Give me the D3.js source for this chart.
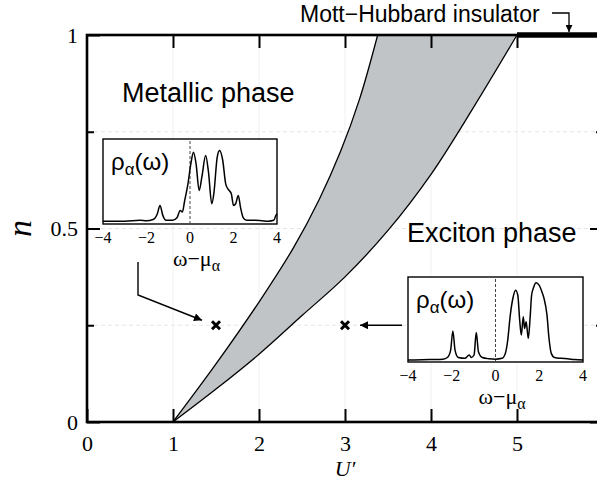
<!DOCTYPE html>
<html lang="en">
<head>
<meta charset="UTF-8">
<title>Phase diagram</title>
<script src="https://cdn.jsdelivr.net/npm/d3@7"></script>
<style>
    body { margin: 0; background: #fff; }
    svg { display: block; }
    .serif { font-family: "Liberation Serif", "Times New Roman", serif; }
    .sans { font-family: "Liberation Sans", Arial, sans-serif; }
</style>
</head>
<body>
<div id="chart"></div>
<script>
    // main axes
    const uTicks = [0, 1, 2, 3, 4, 5]
    const nTicks = [0, 0.5, 1]
    const nMinorTicks = [0.25, 0.75]

    // phase boundaries (U', n)
    const metalBoundary = [[1, 0], [1.5, 0.15], [2, 0.31], [2.4, 0.45], [2.7, 0.575], [2.95, 0.7], [3.17, 0.835], [3.38, 1]]
    const excitonBoundary = [[1, 0], [1.5, 0.085], [2, 0.175], [2.5, 0.275], [3, 0.375], [3.5, 0.495], [4, 0.64], [4.5, 0.815], [5, 1]]
    const mottRange = [5, 6]
    const samplePoints = [[1.5, 0.25], [3, 0.25]]

    // insets: density of states vs omega - mu
    const omegaTicks = [-4, -2, 0, 2, 4]
    const dosMetal = [[-4, 0.01], [-3, 0.01], [-2.3, 0.02], [-2, 0.015], [-1.7, 0.03], [-1.5, 0.1], [-1.38, 0.2], [-1.25, 0.08],
        [-1.1, 0.02], [-0.8, 0.02], [-0.6, 0.05], [-0.45, 0.14], [-0.35, 0.12], [-0.25, 0.25], [-0.1, 0.45], [0.05, 0.72],
        [0.16, 0.84], [0.28, 0.7], [0.42, 0.38], [0.55, 0.55], [0.72, 0.8], [0.85, 0.6], [1, 0.22], [1.1, 0.35], [1.25, 0.78],
        [1.36, 0.86], [1.5, 0.75], [1.65, 0.45], [1.8, 0.38], [1.9, 0.34], [2, 0.2], [2.1, 0.22], [2.22, 0.32], [2.32, 0.18],
        [2.45, 0.05], [2.6, 0.02], [3, 0.02], [3.3, 0.015], [3.6, 0.01], [3.85, 0.02], [3.95, 0.08], [4, 0.1]]
    const dosExciton = [[-4, 0], [-3, 0.005], [-2.4, 0.01], [-2.2, 0.03], [-2.05, 0.12], [-1.95, 0.35], [-1.85, 0.12], [-1.7, 0.03],
        [-1.4, 0.02], [-1.2, 0.06], [-1.1, 0.03], [-0.98, 0.06], [-0.88, 0.33], [-0.78, 0.1], [-0.6, 0.03], [-0.3, 0.015],
        [0, 0.01], [0.3, 0.02], [0.45, 0.08], [0.55, 0.22], [0.68, 0.55], [0.8, 0.75], [0.92, 0.84], [1.02, 0.78], [1.1, 0.5],
        [1.18, 0.3], [1.27, 0.52], [1.33, 0.38], [1.4, 0.46], [1.5, 0.26], [1.58, 0.5], [1.65, 0.78], [1.75, 0.88], [1.85, 0.93],
        [2, 0.9], [2.15, 0.8], [2.22, 0.74], [2.35, 0.55], [2.45, 0.25], [2.55, 0.08], [2.7, 0.03], [3, 0.02], [3.3, 0.015],
        [3.6, 0.005], [4, 0]]

    const width = 597
    const height = 490

    const x = d3.scaleLinear().domain([0, 6]).range([87, 603])
    const y = d3.scaleLinear().domain([0, 1]).range([422, 35])

    const svg = d3.select("#chart").append("svg")
        .attr("width", width)
        .attr("height", height)

    const defs = svg.append("defs")
    defs.append("marker")
        .attr("id", "arrow")
        .attr("viewBox", "0 0 10 10")
        .attr("refX", 10)
        .attr("refY", 5)
        .attr("markerWidth", 11)
        .attr("markerHeight", 8)
        .attr("markerUnits", "userSpaceOnUse")
        .attr("orient", "auto")
        .append("path")
        .attr("d", "M0,0 L10,5 L0,10 Z")
        .attr("fill", "#000")
    defs.append("marker")
        .attr("id", "arrow-small")
        .attr("viewBox", "0 0 10 10")
        .attr("refX", 10)
        .attr("refY", 5)
        .attr("markerWidth", 8)
        .attr("markerHeight", 7)
        .attr("markerUnits", "userSpaceOnUse")
        .attr("orient", "auto")
        .append("path")
        .attr("d", "M0,0 L10,5 L0,10 Z")
        .attr("fill", "#000")

    // faint grid
    svg.append("g").selectAll("line")
        .data([1, 2, 3, 4, 5])
        .enter().append("line")
        .attr("x1", (d) => x(d)).attr("x2", (d) => x(d))
        .attr("y1", y(1)).attr("y2", y(0))
        .attr("stroke", "#f1f1f1")
        .attr("stroke-width", 1)
    svg.append("g").selectAll("line")
        .data([0.25, 0.5, 0.75])
        .enter().append("line")
        .attr("x1", x(0)).attr("x2", x(6))
        .attr("y1", (d) => y(d)).attr("y2", (d) => y(d))
        .attr("stroke", "#e6e6e6")
        .attr("stroke-dasharray", "4,3")
        .attr("stroke-width", 1)

    // coexistence region
    const boundaryLine = d3.line()
        .x((d) => x(d[0]))
        .y((d) => y(d[1]))
        .curve(d3.curveCatmullRom.alpha(0.5))

    const leftPath = boundaryLine(metalBoundary)
    const rightPath = boundaryLine(excitonBoundary.slice().reverse())

    svg.append("path")
        .attr("d", leftPath + rightPath.replace(/^M/, "L") + "Z")
        .attr("fill", "#c0c4c7")
        .attr("stroke", "none")

    svg.selectAll(".boundary")
        .data([metalBoundary, excitonBoundary])
        .enter().append("path")
        .attr("class", "boundary")
        .attr("d", (d) => boundaryLine(d))
        .attr("fill", "none")
        .attr("stroke", "#000")
        .attr("stroke-width", 1.3)

    // axes (ticks point inward)
    const bottomAxis = svg.append("g")
        .attr("transform", `translate(0, ${y(0)})`)
        .call(d3.axisBottom(x).tickValues(uTicks).tickSize(-13).tickPadding(13).tickFormat(d3.format("d")))
    const topAxis = svg.append("g")
        .attr("transform", `translate(0, ${y(1)})`)
        .call(d3.axisTop(x).tickValues(uTicks.slice(1)).tickSize(-13).tickFormat(""))
    const leftAxis = svg.append("g")
        .attr("transform", `translate(${x(0)}, 0)`)
        .call(d3.axisLeft(y).tickValues(nTicks).tickSize(-13).tickPadding(9).tickFormat((d) => d))
    const leftMinor = svg.append("g")
        .attr("transform", `translate(${x(0)}, 0)`)
        .call(d3.axisLeft(y).tickValues(nMinorTicks).tickSize(-7).tickFormat(""))
    const rightAxis = svg.append("g")
        .attr("transform", `translate(${x(6)}, 0)`)
        .call(d3.axisRight(y).tickValues(nTicks).tickSize(-13).tickFormat(""))
    const rightMinor = svg.append("g")
        .attr("transform", `translate(${x(6)}, 0)`)
        .call(d3.axisRight(y).tickValues(nMinorTicks).tickSize(-7).tickFormat(""))

    const axes = [bottomAxis, topAxis, leftAxis, leftMinor, rightAxis, rightMinor]
    axes.forEach((g) => {
        g.select(".domain").remove()
        g.selectAll(".tick line").attr("stroke", "#000").attr("stroke-width", 2)
        g.selectAll(".tick text")
            .attr("class", "serif")
            .style("font-size", "22px")
            .attr("fill", "#000")
    })
    leftAxis.selectAll(".tick text").attr("dy", "0.34em")

    // frame
    svg.append("rect")
        .attr("x", x(0))
        .attr("y", y(1))
        .attr("width", x(6) - x(0))
        .attr("height", y(0) - y(1))
        .attr("fill", "none")
        .attr("stroke", "#000")
        .attr("stroke-width", 2.6)

    // Mott-Hubbard insulator line
    svg.append("line")
        .attr("x1", x(mottRange[0])).attr("x2", x(mottRange[1]))
        .attr("y1", y(1)).attr("y2", y(1))
        .attr("stroke", "#000")
        .attr("stroke-width", 5.5)

    svg.append("text")
        .attr("class", "sans")
        .attr("x", 300)
        .attr("y", 22)
        .style("font-size", "23px")
        .text("Mott\u2212Hubbard insulator")
    svg.append("path")
        .attr("d", "M552,13 L569,13 L569,32")
        .attr("fill", "none")
        .attr("stroke", "#000")
        .attr("stroke-width", 1.3)
        .attr("marker-end", "url(#arrow-small)")

    // axis titles
    svg.append("text")
        .attr("class", "serif")
        .attr("transform", `translate(31, ${y(0.5)}) rotate(-90)`)
        .attr("text-anchor", "middle")
        .style("font-size", "34px")
        .style("font-style", "italic")
        .text("n")
    svg.append("text")
        .attr("class", "serif")
        .attr("x", x(3))
        .attr("y", 476)
        .attr("text-anchor", "middle")
        .style("font-size", "22px")
        .style("font-style", "italic")
        .text("U\u2032")

    // phase labels
    svg.append("text")
        .attr("class", "sans")
        .attr("x", 122)
        .attr("y", 102)
        .style("font-size", "27px")
        .text("Metallic phase")
    svg.append("text")
        .attr("class", "sans")
        .attr("x", 407)
        .attr("y", 242)
        .style("font-size", "27px")
        .text("Exciton phase")

    // sample points
    svg.selectAll(".sample")
        .data(samplePoints)
        .enter().append("path")
        .attr("class", "sample")
        .attr("transform", (d) => `translate(${x(d[0])}, ${y(d[1])})`)
        .attr("d", "M-4,-4 L4,4 M-4,4 L4,-4")
        .attr("stroke", "#000")
        .attr("stroke-width", 3)

    // insets
    function drawInset(box, data, labelDy) {
        const g = svg.append("g")
        const ix = d3.scaleLinear().domain([-4, 4]).range([box.x, box.x + box.w])
        const iy = d3.scaleLinear().domain([0, 1]).range([box.y + box.h - 2, box.y])

        g.append("rect")
            .attr("x", box.x).attr("y", box.y)
            .attr("width", box.w).attr("height", box.h)
            .attr("fill", "#fff")
            .attr("stroke", "#000")
            .attr("stroke-width", 1.4)

        g.append("line")
            .attr("x1", ix(0)).attr("x2", ix(0))
            .attr("y1", box.y + 2).attr("y2", box.y + box.h)
            .attr("stroke", "#444")
            .attr("stroke-width", 1)
            .attr("stroke-dasharray", "3,2")

        g.append("path")
            .datum(data)
            .attr("d", d3.line().x((d) => ix(d[0])).y((d) => iy(d[1])).curve(d3.curveMonotoneX))
            .attr("fill", "none")
            .attr("stroke", "#000")
            .attr("stroke-width", 1.5)

        g.selectAll(".otick")
            .data(omegaTicks)
            .enter().append("text")
            .attr("class", "serif")
            .attr("x", (d) => ix(d))
            .attr("y", box.y + box.h + 19)
            .attr("text-anchor", "middle")
            .style("font-size", "16px")
            .text((d) => d < 0 ? "\u2212" + Math.abs(d) : d)

        const rho = g.append("text")
            .attr("class", "sans")
            .attr("x", box.x + 8)
            .attr("y", box.y + 31)
            .style("font-size", "24px")
        rho.append("tspan").text("\u03c1")
        rho.append("tspan").attr("dy", 5).style("font-size", "17px").text("\u03b1")
        rho.append("tspan").attr("dy", -5).text("(\u03c9)")

        const om = g.append("text")
            .attr("class", "serif")
            .attr("x", ix(0.3))
            .attr("y", box.y + box.h + labelDy)
            .attr("text-anchor", "middle")
            .style("font-size", "22px")
        om.append("tspan").text("\u03c9\u2212\u03bc")
        om.append("tspan").attr("dy", 5).style("font-size", "16px").text("\u03b1")
    }

    drawInset({x: 103, y: 139, w: 174, h: 85}, dosMetal, 42)
    drawInset({x: 408, y: 277, w: 175, h: 85}, dosExciton, 42)

    // arrows from insets to sample points
    svg.append("path")
        .attr("d", `M138,262 L138,295 L${x(1.5) - 14},${y(0.25) - 5}`)
        .attr("fill", "none")
        .attr("stroke", "#000")
        .attr("stroke-width", 1.4)
        .attr("marker-end", "url(#arrow)")
    svg.append("path")
        .attr("d", `M402,${y(0.25)} L${x(3) + 15},${y(0.25)}`)
        .attr("fill", "none")
        .attr("stroke", "#000")
        .attr("stroke-width", 1.4)
        .attr("marker-end", "url(#arrow)")
</script>
</body>
</html>
